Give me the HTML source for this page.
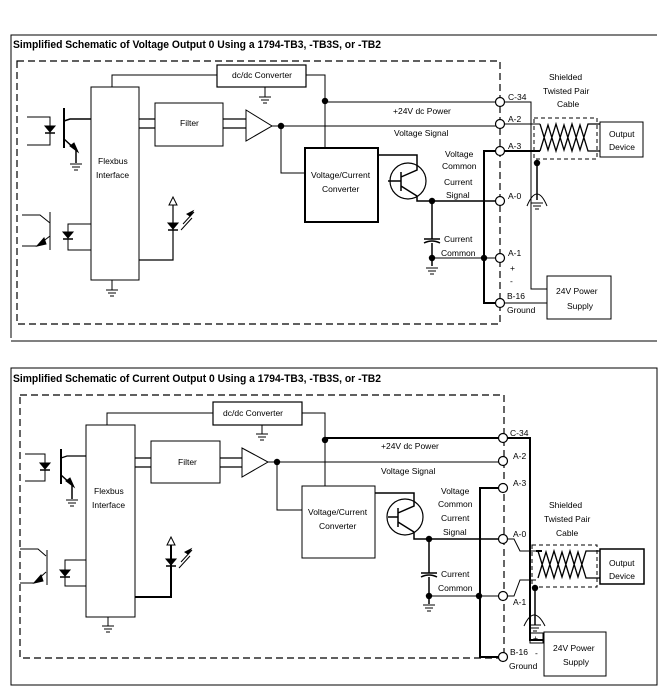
<!DOCTYPE html>
<html><head><meta charset="utf-8"><style>
html,body{margin:0;padding:0;background:#fff;}
svg{display:block;}
text{font-family:"Liberation Sans",sans-serif;font-size:8.5px;fill:#000;}
.t{font-weight:bold;font-size:11px;}
</style></head><body>
<svg width="667" height="699" viewBox="0 0 667 699" xmlns="http://www.w3.org/2000/svg" stroke="#000" fill="none" stroke-width="1">
<defs>
<g id="gnd"><line x1="-6" y1="0" x2="6" y2="0"/><line x1="-4" y1="3" x2="4" y2="3"/><line x1="-2" y1="6" x2="2" y2="6"/></g>
<g id="dio"><polygon points="-5,-4 5,-4 0,2" fill="#000"/><line x1="-5" y1="3" x2="5" y2="3" stroke-width="1.5"/></g>
<g id="term"><circle r="4.5" fill="#fff" stroke-width="1.2"/></g>
<g id="dot"><circle r="3.2" fill="#000" stroke="none"/></g>
</defs>

<!-- ================= TOP DIAGRAM ================= -->
<path d="M11 338 V35 H657"/>
<path d="M11 341 H657"/>
<text class="t" x="13" y="48" stroke="none" textLength="368" lengthAdjust="spacingAndGlyphs">Simplified Schematic of Voltage Output 0 Using a 1794-TB3, -TB3S, or -TB2</text>
<rect x="17" y="61" width="483" height="263" stroke-dasharray="7,4" stroke-width="1.2"/>

<!-- dc/dc -->
<rect x="217" y="65" width="89" height="22" stroke-width="1.2"/>
<text x="232" y="78" stroke="none">dc/dc  Converter</text>
<path d="M112 87 V75 H217"/>
<path d="M306 75 H325 V148"/>
<path d="M265 87 V97"/><use href="#gnd" x="265" y="97"/>
<use href="#dot" x="325" y="101"/>
<!-- flexbus -->
<rect x="91" y="87" width="48" height="193"/>
<text x="98" y="164" stroke="none">Flexbus</text>
<text x="96" y="178" stroke="none">Interface</text>
<path d="M112 280 V290"/><use href="#gnd" x="112" y="290"/>
<!-- filter -->
<rect x="155" y="103" width="68" height="43"/>
<text x="180" y="126" stroke="none">Filter</text>
<path d="M139 119 H155 M139 128 H155 M223 119 H246 M223 128 H246" stroke-width="1.2"/>
<polygon points="246,110 246,141 272,126"/>
<path d="M272 126 H500"/>
<use href="#dot" x="281" y="126"/>
<path d="M281 126 V173 H305"/>
<!-- converter -->
<rect x="305" y="148" width="73" height="74" stroke-width="2"/>
<text x="311" y="178" stroke="none">Voltage/Current</text>
<text x="322" y="192" stroke="none">Converter</text>
<!-- transistor -->
<circle cx="408" cy="181" r="18" stroke-width="1.2"/>
<path d="M378 155 H417 V170 L401 177 M388 181 H401 M401 172 V191 M401 186 L417 196 V201 H500" stroke-width="1.5"/>
<use href="#dot" x="432" y="201"/>
<path d="M432 201 V239 M424 239 H440 M424 243 Q432 239 440 243 M432 243 V258 V266" stroke-width="1.5"/>
<use href="#dot" x="432" y="258"/>
<use href="#gnd" x="432" y="268"/>
<path d="M432 258 H500"/>
<use href="#dot" x="484" y="258"/>
<path d="M500 151 H484 V303 H500" stroke-width="2"/>
<path d="M325 102 H500"/>
<!-- right wiring -->
<path d="M504 102 H531 V289 H547"/>
<path d="M504 124 H540"/>
<path d="M504 151 H540" stroke-width="2"/>
<path d="M504 303 H547"/>
<rect x="534" y="118" width="63" height="41" stroke-dasharray="4,3"/>
<path d="M540 124 L548 150 L556 124 L564 150 L572 124 L580 150 L588 124 H600 M540 151 L548 125 L556 151 L564 125 L572 151 L580 125 L588 151 H600" stroke-width="1.3"/>
<rect x="600" y="122" width="43" height="35"/>
<text x="609" y="137" stroke="none">Output</text>
<text x="609" y="150" stroke="none">Device</text>
<use href="#dot" x="537" y="163"/>
<path d="M537 163 V200" stroke-width="1.5"/>
<path d="M527 206 Q537 182 547 206"/>
<use href="#gnd" x="537" y="203"/>
<rect x="547" y="276" width="64" height="43"/>
<text x="556" y="294" stroke="none">24V Power</text>
<text x="567" y="309" stroke="none">Supply</text>
<text x="549" y="80" stroke="none">Shielded</text>
<text x="543" y="94" stroke="none">Twisted Pair</text>
<text x="557" y="107" stroke="none">Cable</text>
<!-- labels -->
<text x="393" y="114" stroke="none">+24V  dc  Power</text>
<text x="394" y="136" stroke="none">Voltage  Signal</text>
<text x="445" y="157" stroke="none">Voltage</text>
<text x="442" y="169" stroke="none">Common</text>
<text x="444" y="185" stroke="none">Current</text>
<text x="446" y="198" stroke="none">Signal</text>
<text x="444" y="242" stroke="none">Current</text>
<text x="441" y="256" stroke="none">Common</text>
<text x="508" y="100" stroke="none">C-34</text>
<text x="508" y="122" stroke="none">A-2</text>
<text x="508" y="149" stroke="none">A-3</text>
<text x="508" y="199" stroke="none">A-0</text>
<text x="508" y="256" stroke="none">A-1</text>
<text x="510" y="271" stroke="none">+</text>
<text x="510" y="284" stroke="none">-</text>
<text x="507" y="299" stroke="none">B-16</text>
<text x="507" y="313" stroke="none">Ground</text>
<use href="#term" x="500" y="102"/><use href="#term" x="500" y="124"/><use href="#term" x="500" y="151"/>
<use href="#term" x="500" y="201"/><use href="#term" x="500" y="258"/><use href="#term" x="500" y="303"/>
<!-- left optos -->
<path d="M27 117 H50 V145 H27"/>
<use href="#dio" x="50" y="130"/>
<path d="M64 108 V148" stroke-width="2"/>
<path d="M64 121 L70 119 H91" stroke-width="1.5"/>
<path d="M64 139 L76 150 V163" stroke-width="1.5"/>
<polygon points="70,146 78,152 74,143" fill="#000"/>
<use href="#gnd" x="76" y="164"/>
<path d="M22 215 H40 L50 223 M22 246 H37 L50 236"/>
<polygon points="37,246 44,238 46,244" fill="#000"/>
<path d="M50 212 V250"/>
<path d="M91 224 H68 V250 H91"/>
<use href="#dio" x="68" y="236"/>
<path d="M139 260 H173 V205" stroke-width="1.2"/>
<polygon points="169,205 177,205 173,197"/>
<use href="#dio" x="173" y="227"/>
<path d="M181 230 L192 218 M183 224 L194 212"/>
<polygon points="190,216 193,211 187,214" fill="#000"/>

<!-- ================= BOTTOM DIAGRAM ================= -->
<rect x="11" y="368" width="646" height="317"/>
<text class="t" x="13" y="382" stroke="none" textLength="368" lengthAdjust="spacingAndGlyphs">Simplified Schematic of Current Output 0 Using a 1794-TB3, -TB3S, or -TB2</text>
<rect x="20" y="395" width="484" height="263" stroke-dasharray="7,4" stroke-width="1.2"/>

<rect x="213" y="402" width="89" height="23" stroke-width="1.2"/>
<text x="223" y="416" stroke="none">dc/dc Converter</text>
<path d="M107 425 V413 H213"/>
<path d="M302 413 H325 V486"/>
<path d="M262 425 V434"/><use href="#gnd" x="262" y="434"/>
<use href="#dot" x="325" y="440"/>
<rect x="86" y="425" width="49" height="192"/>
<text x="94" y="494" stroke="none">Flexbus</text>
<text x="92" y="508" stroke="none">Interface</text>
<path d="M108 617 V626"/><use href="#gnd" x="108" y="626"/>
<rect x="151" y="441" width="69" height="42"/>
<text x="178" y="465" stroke="none">Filter</text>
<path d="M135 458 H151 M135 467 H151 M220 458 H242 M220 467 H242" stroke-width="1.2"/>
<polygon points="242,448 242,477 268,462"/>
<path d="M268 462 H503"/>
<use href="#dot" x="277" y="462"/>
<path d="M277 462 V510 H302"/>
<rect x="302" y="486" width="73" height="72"/>
<text x="308" y="515" stroke="none">Voltage/Current</text>
<text x="319" y="529" stroke="none">Converter</text>
<circle cx="405" cy="517" r="18" stroke-width="1.2"/>
<path d="M375 493 H414 V506 L398 513 M388 517 H398 M398 508 V527 M398 522 L414 532 V539 H503" stroke-width="1.5"/>
<use href="#dot" x="429" y="539"/>
<path d="M429 539 V573 M421 573 H437 M421 577 Q429 573 437 577 M429 577 V604" stroke-width="1.5"/>
<use href="#dot" x="429" y="596"/>
<use href="#gnd" x="429" y="605"/>
<path d="M429 596 H503"/>
<use href="#dot" x="479" y="596"/>
<path d="M503 488 H480 V657 H503" stroke-width="2"/>
<path d="M325 438 H530 V640 H544" stroke-width="2"/>
<path d="M507 539 H514 L520 551 H536" />
<path d="M536 551 H542" stroke-width="2"/>
<path d="M507 596 H514 L520 580 H536"/>
<rect x="532" y="545" width="65" height="42" stroke-dasharray="4,3"/>
<path d="M538 551 L546 577 L554 551 L562 577 L570 551 L578 577 L586 551 H600 M538 578 L546 552 L554 578 L562 552 L570 578 L578 552 L586 578 H600" stroke-width="1.3"/>
<rect x="600" y="549" width="44" height="35" stroke-width="1.5"/>
<text x="609" y="566" stroke="none">Output</text>
<text x="609" y="579" stroke="none">Device</text>
<use href="#dot" x="535" y="588"/>
<path d="M535 588 V625" stroke-width="1.5"/>
<path d="M524 626 Q534 604 545 626"/>
<use href="#gnd" x="535" y="625"/>
<rect x="530" y="633" width="13" height="10"/>
<text x="533" y="641" stroke="none">+</text>
<text x="535" y="656" stroke="none">-</text>
<rect x="544" y="632" width="62" height="44"/>
<text x="553" y="651" stroke="none">24V Power</text>
<text x="563" y="665" stroke="none">Supply</text>
<text x="549" y="508" stroke="none">Shielded</text>
<text x="544" y="522" stroke="none">Twisted Pair</text>
<text x="556" y="536" stroke="none">Cable</text>
<text x="381" y="449" stroke="none">+24V dc Power</text>
<text x="381" y="474" stroke="none">Voltage Signal</text>
<text x="441" y="494" stroke="none">Voltage</text>
<text x="438" y="507" stroke="none">Common</text>
<text x="441" y="521" stroke="none">Current</text>
<text x="443" y="535" stroke="none">Signal</text>
<text x="441" y="577" stroke="none">Current</text>
<text x="438" y="591" stroke="none">Common</text>
<text x="510" y="436" stroke="none">C-34</text>
<text x="513" y="459" stroke="none">A-2</text>
<text x="513" y="486" stroke="none">A-3</text>
<text x="513" y="537" stroke="none">A-0</text>
<text x="513" y="605" stroke="none">A-1</text>
<text x="510" y="655" stroke="none">B-16</text>
<text x="509" y="669" stroke="none">Ground</text>
<use href="#term" x="503" y="438"/><use href="#term" x="503" y="461"/><use href="#term" x="503" y="488"/>
<use href="#term" x="503" y="539"/><use href="#term" x="503" y="596"/><use href="#term" x="503" y="657"/>
<!-- left optos -->
<path d="M25 454 H45 V481 H25"/>
<use href="#dio" x="45" y="467"/>
<path d="M61 449 V484" stroke-width="2"/>
<path d="M61 458 L67 456 H86" stroke-width="1.2"/>
<path d="M61 475 L72 485 V499" stroke-width="1.5"/>
<polygon points="66,481 74,487 70,478" fill="#000"/>
<use href="#gnd" x="72" y="500"/>
<path d="M20 549 H38 L46 556 M20 583 H34 L46 572"/>
<polygon points="34,583 41,575 43,581" fill="#000"/>
<path d="M47 550 V585"/>
<path d="M86 560 H65 V586 H86"/>
<use href="#dio" x="65" y="574"/>
<path d="M135 597 H171 V545" stroke-width="2"/>
<polygon points="167,545 175,545 171,537"/>
<use href="#dio" x="171" y="563"/>
<path d="M179 568 L190 556 M181 562 L192 550"/>
<polygon points="188,554 191,549 185,552" fill="#000"/>
</svg>
</body></html>
